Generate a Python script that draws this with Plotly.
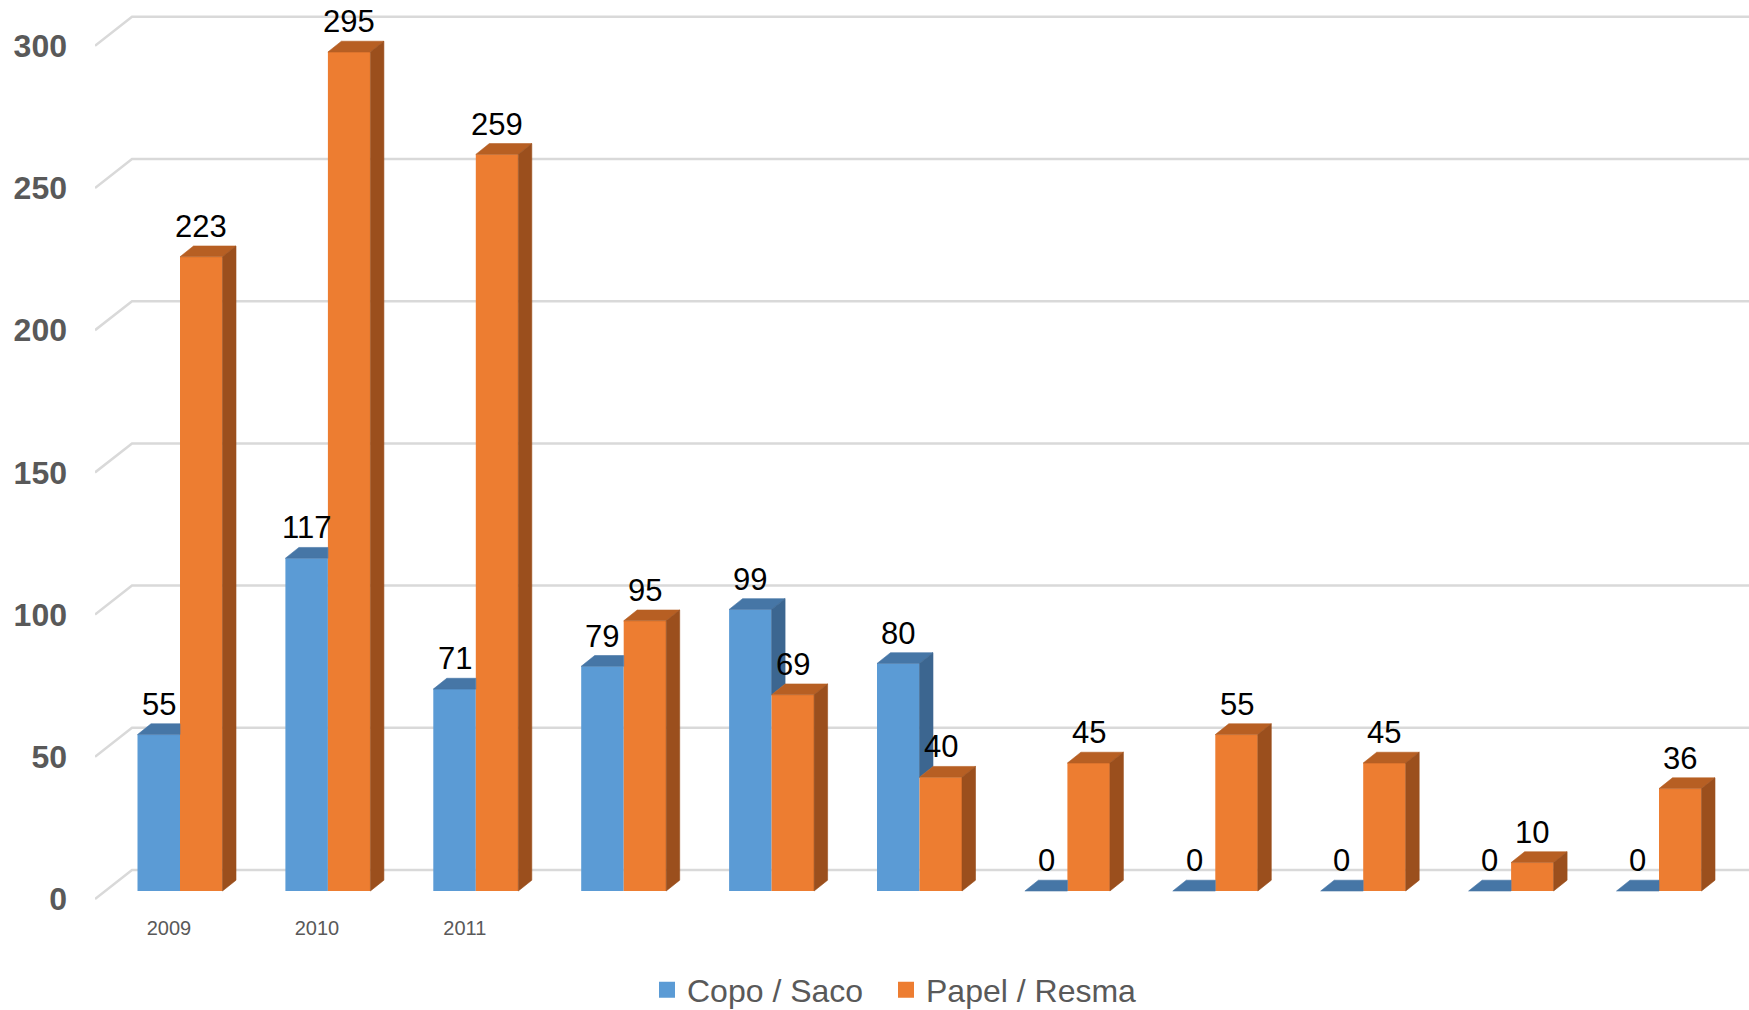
import plotly.graph_objects as go

# ---------------- data ----------------
categories = ['2009', '2010', '2011', '', '', '', '', '', '', '', '']
copo_saco = [55, 117, 71, 79, 99, 80, 0, 0, 0, 0, 0]
papel_resma = [223, 295, 259, 95, 69, 40, 45, 55, 45, 10, 36]
series_names = ['Copo / Saco', 'Papel / Resma']
y_ticks = [0, 50, 100, 150, 200, 250, 300]
y_tick_labels = ['0', '50', '100', '150', '200', '250', '300']
x_tick_vals = [0, 1, 2]
x_tick_labels = ['2009', '2010', '2011']

# ---------------- style / geometry (page pixels) ----------------
PAGE_W, PAGE_H = 1749, 1010
BODY = 0                                   # body margin removed by post_script below
W, H = PAGE_W - BODY, PAGE_H - BODY + 40   # extra height so the legend never squeezes the plot
PLOT_L, PLOT_R, PLOT_T, PLOT_B = 95, 1749, 8, 900   # page px of plot area
ML, MR, MT = PLOT_L - BODY, PAGE_W - PLOT_R, PLOT_T - BODY
MB = H - (PLOT_B - BODY)
X0_PX, CAT_PX = 180.0, 147.9      # page pixel of first category, pixels per category
Y0_PX, UNIT_PX = 891.0, 2.844     # page pixel of zero (bar plane), pixels per unit
BAR_PX = 42.5
DEPTH_DX_PX, DEPTH_DY_PX = 13.5, 10.8
FRONT_DY_PX, BACK_DY_PX, BACK_DX_PX = 8.0, 21.0, 37.0

BLUE, BLUE_TOP, BLUE_SIDE = '#5B9BD5', '#4676A6', '#3C6690'
ORANGE, ORANGE_TOP, ORANGE_SIDE = '#ED7D31', '#B75F23', '#9B4F1D'
GRID = '#D9D9D9'
TXT = '#595959'
FONT = 'Liberation Sans, Arial, sans-serif'

x = list(range(len(categories)))
x_range = [(PLOT_L - X0_PX) / CAT_PX, (PLOT_R - X0_PX) / CAT_PX]
y_range = [(Y0_PX - PLOT_B) / UNIT_PX, (Y0_PX - PLOT_T) / UNIT_PX]
w = BAR_PX / CAT_PX
dx = DEPTH_DX_PX / CAT_PX
dy = DEPTH_DY_PX / UNIT_PX

fig = go.Figure()
fig.add_trace(go.Bar(x=x, y=copo_saco, width=w, offset=-w, name=series_names[0],
                     legendgroup='a', showlegend=False,
                     marker=dict(color=BLUE, line=dict(width=0))))
fig.add_trace(go.Bar(x=x, y=papel_resma, width=w, offset=0, name=series_names[1],
                     legendgroup='b', showlegend=False,
                     marker=dict(color=ORANGE, line=dict(width=0))))


def add_poly(xs, ys, color):
    fig.add_trace(go.Scatter(x=xs, y=ys, mode='lines', fill='toself', fillcolor=color,
                             line=dict(color=color, width=0.6), hoverinfo='skip',
                             showlegend=False))


bt_x, bt_y, bs_x, bs_y, ot_x, ot_y, os_x, os_y = [], [], [], [], [], [], [], []
for i, (vb, vo) in enumerate(zip(copo_saco, papel_resma)):
    xl = i - w
    # blue top (clipped where hidden behind the orange bar)
    if vb >= vo:
        bt_x += [xl, xl + dx, i + dx, i, xl, None]
    else:
        bt_x += [xl, xl + dx, i, i, xl, None]
    bt_y += [vb, vb + dy, vb + dy, vb, vb, None]
    # blue side (only the part visible above the orange bar)
    if vb > vo:
        bs_x += [i, i, i + dx, i + dx, i, None]
        bs_y += [vo, vb, vb + dy, vo + dy, vo, None]
    xr = i + w
    ot_x += [i, i + dx, xr + dx, xr, i, None]
    ot_y += [vo, vo + dy, vo + dy, vo, vo, None]
    os_x += [xr, xr, xr + dx, xr + dx, xr, None]
    os_y += [0, vo, vo + dy, dy, 0, None]

add_poly(bt_x, bt_y, BLUE_TOP)
add_poly(bs_x, bs_y, BLUE_SIDE)
add_poly(ot_x, ot_y, ORANGE_TOP)
add_poly(os_x, os_y, ORANGE_SIDE)

# legend entries (square markers), one legend per entry for exact placement
for name, col, grp, leg in ((series_names[0], BLUE, 'a', 'legend'),
                            (series_names[1], ORANGE, 'b', 'legend2')):
    fig.add_trace(go.Scatter(x=[None], y=[None], mode='markers', name=name, legendgroup=grp,
                             legend=leg, marker=dict(symbol='square', size=16, color=col)))

# gridlines (front diagonal + back wall)
x_back = (PLOT_L + BACK_DX_PX - X0_PX) / CAT_PX
for v in y_ticks:
    yf = v - FRONT_DY_PX / UNIT_PX
    yb = v + BACK_DY_PX / UNIT_PX
    fig.add_shape(type='path', xref='x', yref='y', layer='below',
                  path=f'M {x_range[0]},{yf} L {x_back},{yb} L {x_range[1]},{yb}',
                  line=dict(color=GRID, width=2.5))

# data labels
for i, (vb, vo) in enumerate(zip(copo_saco, papel_resma)):
    for val, cx in ((vb, i - w / 2), (vo, i + w / 2)):
        fig.add_annotation(x=cx, y=val + dy, text=str(val), showarrow=False,
                           xref='x', yref='y', yanchor='bottom', xanchor='center',
                           font=dict(family=FONT, size=31, color='#000000'))

plot_h = PLOT_B - PLOT_T
plot_w = PLOT_R - PLOT_L
legend_mid_page = 990
legend_y = (PLOT_B - legend_mid_page) / plot_h


def legend_box(left_page):
    return dict(orientation='h', x=(left_page - PLOT_L) / plot_w, xanchor='left',
                y=legend_y, yanchor='middle', bgcolor='rgba(0,0,0,0)',
                font=dict(family=FONT, size=32, color=TXT),
                itemclick=False, itemdoubleclick=False)


fig.update_layout(
    width=W, height=H, barmode='overlay',
    margin=dict(l=ML, r=MR, t=MT, b=MB, pad=0),
    paper_bgcolor='white', plot_bgcolor='white',
    xaxis=dict(range=x_range, tickvals=x_tick_vals, ticktext=x_tick_labels,
               showgrid=False, zeroline=False, showline=False, ticks='',
               tickfont=dict(family=FONT, size=20, color=TXT),
               ticklabelstandoff=14, ticklabelshift=-11, fixedrange=True),
    yaxis=dict(range=y_range, tickvals=y_ticks, ticktext=y_tick_labels,
               showgrid=False, zeroline=False, showline=False, ticks='',
               tickfont=dict(family=FONT, size=32, color=TXT, weight='bold'),
               ticklabelstandoff=27, ticklabelshift=8, fixedrange=True),
    legend=legend_box(647),
    legend2=legend_box(886),
    showlegend=True,
)

fig.write_html('out.html', config={'displayModeBar': False},
               post_script="document.body.style.margin='0px';")
